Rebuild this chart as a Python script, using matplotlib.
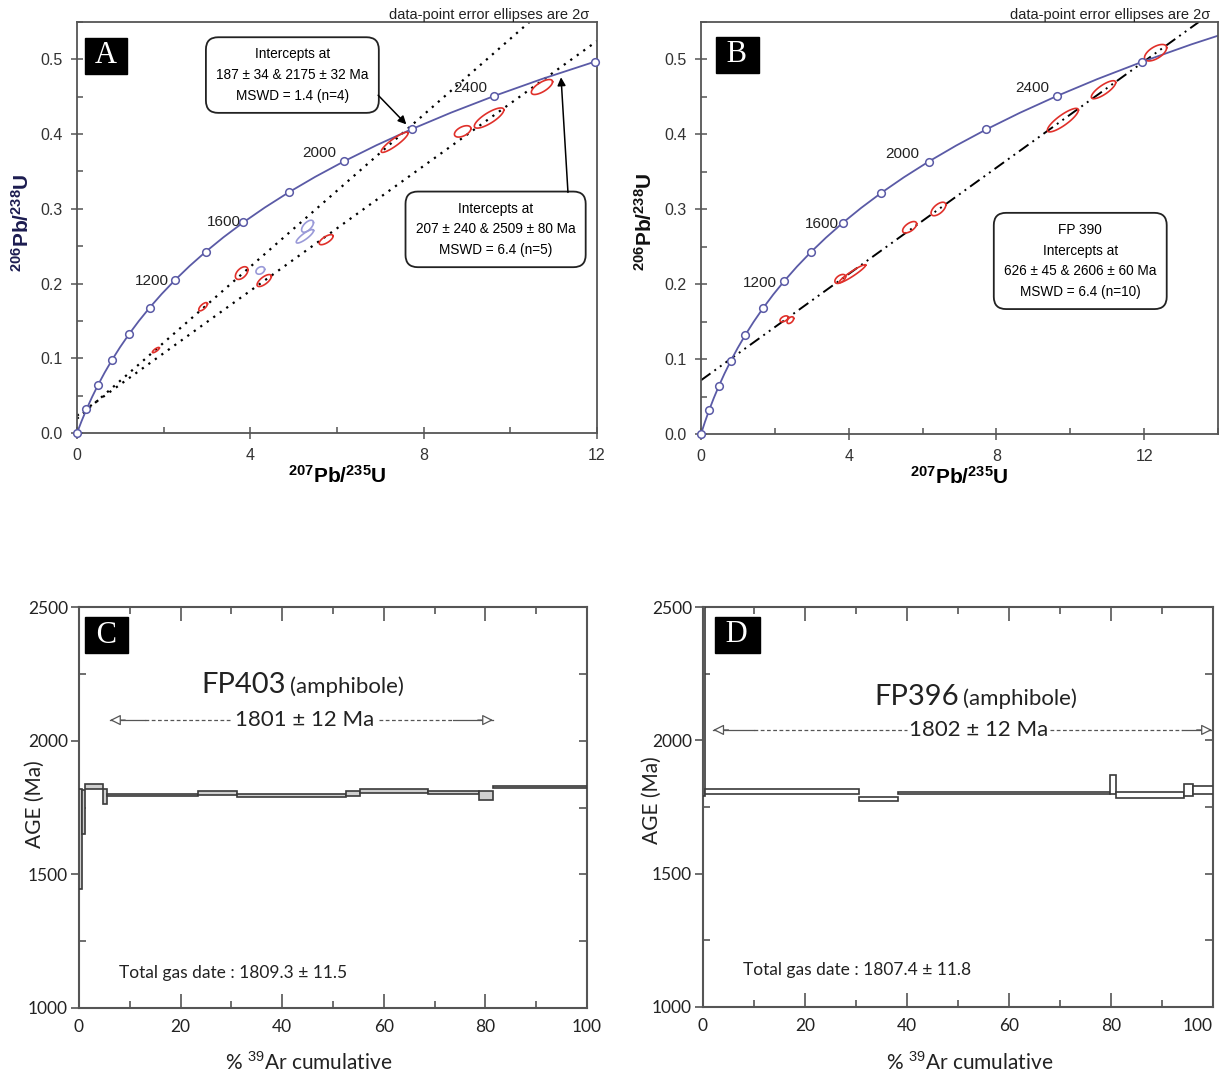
import numpy as np
import matplotlib
matplotlib.use('Agg')
import matplotlib.pyplot as plt
from matplotlib.ticker import MultipleLocator, FormatStrFormatter

plt.rcParams['font.family'] = ['Liberation Sans', 'DejaVu Sans']
plt.rcParams['mathtext.fontset'] = 'custom'
plt.rcParams['mathtext.rm'] = 'Liberation Sans'
plt.rcParams['mathtext.bf'] = 'Liberation Sans:bold'

# concordia (every 100 Ma), 207Pb/235U and 206Pb/238U
conc_age = np.arange(0, 2900, 100)
conc_x = [0, 0.1035, 0.2177, 0.3437, 0.4828, 0.6363, 0.8056, 0.9925, 1.1987, 1.4263,
          1.6774, 1.9545, 2.2603, 2.5977, 2.9702, 3.3810, 3.8344, 4.3348, 4.8869, 5.4962,
          6.1685, 6.9105, 7.7292, 8.6326, 9.6296, 10.7304, 11.9437, 13.2834, 14.7617]
conc_y = [0, 0.01563, 0.03151, 0.04764, 0.06402, 0.08065, 0.09754, 0.11470, 0.13214, 0.14982,
          0.16781, 0.18606, 0.20460, 0.22344, 0.24256, 0.26198, 0.28171, 0.30175, 0.32210, 0.34277,
          0.36376, 0.38509, 0.40673, 0.42873, 0.45106, 0.47376, 0.49678, 0.52020, 0.54395]
age_labels = ['1200', '1600', '2000', '2400']

# panel A ellipses (red = used, blue = rejected)
A_red_x = [1.82, 2.91, 3.80, 4.32, 5.75, 7.33, 8.90, 9.51, 10.73]
A_red_y = [0.111, 0.169, 0.214, 0.204, 0.2587, 0.389, 0.4036, 0.4215, 0.463]
A_red_sx = [0.08, 0.10, 0.145, 0.165, 0.16, 0.31, 0.19, 0.34, 0.245]
A_red_sy = [0.0035, 0.0055, 0.0085, 0.008, 0.0067, 0.0135, 0.0076, 0.0135, 0.010]
A_red_rho = [0.8, 0.7, 0.5, 0.7, 0.7, 0.9, 0.5, 0.8, 0.7]
A_blue_x = [4.23, 5.32, 5.26]
A_blue_y = [0.2175, 0.2767, 0.2632]
A_blue_sx = [0.10, 0.137, 0.20]
A_blue_sy = [0.005, 0.008, 0.009]
A_blue_rho = [0.3, 0.6, 0.85]
# discordia intercepts (lower, upper) for panel A
A_line1 = [(0.203, 0.0295), (7.53, 0.402)]
A_line2 = [(0.226, 0.0327), (10.834, 0.4758)]

# panel B ellipses
B_x = [2.25, 2.42, 3.77, 4.10, 5.65, 6.43, 9.80, 10.90, 12.31]
B_y = [0.1537, 0.152, 0.207, 0.214, 0.276, 0.3004, 0.419, 0.4596, 0.509]
B_sx = [0.11, 0.09, 0.145, 0.36, 0.19, 0.20, 0.42, 0.33, 0.30]
B_sy = [0.004, 0.0045, 0.006, 0.012, 0.0076, 0.009, 0.0157, 0.012, 0.011]
B_rho = [0.5, 0.5, 0.5, 0.95, 0.6, 0.6, 0.85, 0.8, 0.6]
B_line = [(0.8525, 0.10198), (12.0204, 0.49818)]

# Ar-Ar age spectra: step edges (% 39Ar cumulative) and age band (Ma)
C_start = [0, 0.6, 1.2, 4.8, 5.5, 23.5, 31.07, 52.5, 55.4, 68.7, 78.7, 81.4]
C_end = [0.6, 1.2, 4.8, 5.5, 23.5, 31.07, 52.5, 55.4, 68.7, 78.7, 81.4, 100]
C_lo = [1445, 1650, 1821, 1763, 1793, 1797, 1791, 1792, 1806, 1802, 1778, 1822]
C_hi = [1820, 1815, 1838, 1820, 1800, 1813, 1799, 1812, 1821, 1812, 1810, 1831]
D_start = [0, 0.3, 30.6, 38.3, 79.9, 80.9, 94.3, 96.1]
D_end = [0.3, 30.6, 38.3, 79.9, 80.9, 94.3, 96.1, 100]
D_lo = [1790, 1798, 1772, 1799, 1798, 1785, 1790, 1800]
D_hi = [2520, 1817, 1788, 1806, 1870, 1807, 1838, 1829]

fig = plt.figure(figsize=(12.25, 10.77), dpi=100)
axA = fig.add_axes([77/1225, 1-433/1077, 520/1225, 411/1077])
axB = fig.add_axes([701/1225, 1-434/1077, 517/1225, 412/1077])
axC = fig.add_axes([79/1225, 1-1008/1077, 508/1225, 401/1077])
axD = fig.add_axes([703/1225, 1-1007/1077, 510/1225, 400/1077])

conc_col = '#5a5aa6'
red = '#e0302a'
blue = '#9a9ad8'


def ellipse(ax, x, y, sx, sy, rho, color):
    t = np.linspace(0, 2*np.pi, 90)
    ax.plot(x + sx*np.cos(t), y + sy*(rho*np.cos(t) + np.sqrt(1-rho**2)*np.sin(t)),
            color=color, lw=1.2, zorder=3)


def panel_letter(ax, letter, fx, fy):
    ax.text(fx, fy, ' ' + letter + ' ', transform=ax.transAxes, ha='center', va='center',
            family=['Liberation Serif', 'DejaVu Serif'], fontsize=22, color='white',
            bbox=dict(boxstyle='square,pad=0.12', fc='black', ec='black'), zorder=10)


def concordia(ax, last):
    ax.plot(conc_x[:last], conc_y[:last], color=conc_col, lw=1.3, zorder=2)
    ax.plot(conc_x[:27:2], conc_y[:27:2], 'o', ms=5.5, mfc='white', mec=conc_col,
            mew=1.1, zorder=4, clip_on=False)


def style_concordia(ax, xmax):
    ax.set_xlim(0, xmax)
    ax.set_ylim(0, 0.55)
    ax.xaxis.set_major_locator(MultipleLocator(4))
    ax.xaxis.set_minor_locator(MultipleLocator(2))
    ax.yaxis.set_major_locator(MultipleLocator(0.1))
    ax.yaxis.set_minor_locator(MultipleLocator(0.05))
    ax.yaxis.set_major_formatter(FormatStrFormatter('%.1f'))
    ax.tick_params(which='major', direction='inout', length=9, width=1.1, color='#555',
                   labelsize=11.5, labelcolor='#333', pad=6)
    ax.tick_params(which='minor', direction='in', length=4, width=1.1, color='#555')
    for s in ax.spines.values():
        s.set_color('#555')
        s.set_linewidth(1.3)
    ax.set_xlabel(r'$\mathbf{^{207}Pb/^{235}U}$', fontsize=15, labelpad=2)
    ax.text(0.985, 0.999, 'data-point error ellipses are 2σ', transform=ax.transAxes,
            ha='right', va='bottom', fontsize=10.5, color='#222')


bbox_round = dict(boxstyle='round,pad=0.75,rounding_size=0.9', fc='white', ec='#222', lw=1.3)

# ---------------- panel A ----------------
style_concordia(axA, 12)
concordia(axA, 27)
for (p0, p1) in [A_line1, A_line2]:
    sl = (p1[1]-p0[1])/(p1[0]-p0[0])
    axA.axline(p0, slope=sl, color='black', lw=1.6, ls=(0, (1, 2.6)), zorder=1)
for i in range(len(A_red_x)):
    ellipse(axA, A_red_x[i], A_red_y[i], A_red_sx[i], A_red_sy[i], A_red_rho[i], red)
for i in range(len(A_blue_x)):
    ellipse(axA, A_blue_x[i], A_blue_y[i], A_blue_sx[i], A_blue_sy[i], A_blue_rho[i], blue)
for lab, (lx, ly) in zip(age_labels, [(1.72, 0.203), (3.38, 0.2825), (5.58, 0.375), (9.07, 0.462)]):
    axA.text(lx, ly, lab, ha='center', va='center', fontsize=11, color='#222')
axA.text(4.97, 0.479, 'Intercepts at\n187 ± 34 & 2175 ± 32 Ma\nMSWD = 1.4 (n=4)', ha='center',
         va='center', fontsize=9.8, linespacing=1.6, bbox=bbox_round, zorder=6)
axA.text(9.66, 0.2725, 'Intercepts at\n207 ± 240 & 2509 ± 80 Ma\nMSWD = 6.4 (n=5)', ha='center',
         va='center', fontsize=9.8, linespacing=1.6, bbox=bbox_round, zorder=6)
arr = dict(arrowstyle='-|>', color='black', lw=1.1, mutation_scale=12, shrinkA=0, shrinkB=0)
axA.annotate('', xy=(7.6, 0.413), xytext=(6.95, 0.452), arrowprops=arr, zorder=7)
axA.annotate('', xy=(11.17, 0.476), xytext=(11.33, 0.322), arrowprops=arr, zorder=7)
panel_letter(axA, 'A', 0.056, 0.918)
fig.text(22/1225, 1-223/1077, r'$\mathbf{^{206}Pb/^{238}U}$', rotation=90, ha='center',
         va='center', fontsize=15, color='#1c1c50')

# ---------------- panel B ----------------
style_concordia(axB, 14)
concordia(axB, 29)
slB = (B_line[1][1]-B_line[0][1])/(B_line[1][0]-B_line[0][0])
axB.axline(B_line[0], slope=slB, color='black', lw=1.4, ls=(0, (6, 2.5, 1, 2.5, 1, 2.5)), zorder=1)
for i in range(len(B_x)):
    ellipse(axB, B_x[i], B_y[i], B_sx[i], B_sy[i], B_rho[i], red)
for lab, (lx, ly) in zip(age_labels, [(1.59, 0.202), (3.28, 0.280), (5.44, 0.374), (8.96, 0.462)]):
    axB.text(lx, ly, lab, ha='center', va='center', fontsize=11, color='#222')
axB.text(10.27, 0.231, 'FP 390\nIntercepts at\n626 ± 45 & 2606 ± 60 Ma\nMSWD = 6.4 (n=10)',
         ha='center', va='center', fontsize=9.8, linespacing=1.6, bbox=bbox_round, zorder=6)
panel_letter(axB, 'B', 0.070, 0.920)
fig.text(645/1225, 1-222/1077, r'$\mathbf{^{206}Pb/^{238}U}$', rotation=90, ha='center',
         va='center', fontsize=15, color='#111')


# ---------------- panels C, D ----------------
sans2 = ['Lato', 'DejaVu Sans']


def spectrum(ax, start, end, lo, hi, fc, xlab_x, ylab_x, ylab_y):
    w = np.array(end) - np.array(start)
    h = np.array(hi) - np.array(lo)
    ax.bar(start, h, width=w, bottom=lo, align='edge', fc=fc, ec='#3a3a3a', lw=1.2, zorder=3)
    ax.set_xlim(0, 100)
    ax.set_ylim(1000, 2500)
    ax.set_xticks([0, 20, 40, 60, 80, 100])
    ax.xaxis.set_minor_locator(MultipleLocator(10))
    ax.yaxis.set_major_locator(MultipleLocator(500))
    ax.yaxis.set_minor_locator(MultipleLocator(250))
    ax.tick_params(axis='x', which='major', direction='in', length=10, width=1.2, top=True,
                   color='#555', labelsize=12.5, labelcolor='#222', pad=8)
    ax.tick_params(axis='x', which='minor', direction='in', length=5, width=1.2, top=True, color='#555')
    ax.tick_params(axis='y', which='major', direction='out', length=6, width=1.2, color='#555',
                   labelsize=12.5, labelcolor='#222', pad=2)
    ax.tick_params(axis='y', which='minor', direction='in', length=5, width=1.2, color='#555')
    for lab in ax.get_xticklabels() + ax.get_yticklabels():
        lab.set_family(sans2)
    sec = ax.secondary_yaxis('right')
    sec.yaxis.set_major_locator(MultipleLocator(500))
    sec.yaxis.set_minor_locator(MultipleLocator(250))
    sec.tick_params(which='both', direction='in', length=6, width=1.2, color='#555', labelright=False)
    sec.spines['right'].set_visible(False)
    for s in ax.spines.values():
        s.set_color('#555')
        s.set_linewidth(1.5)
    fig.text(xlab_x/1225, 1-1062/1077, r'% $^{39}$Ar cumulative', fontsize=15, family=sans2,
             color='#222', ha='center', va='center')
    fig.text(ylab_x/1225, 1-ylab_y/1077, 'AGE (Ma)', fontsize=15, family=sans2, color='#222',
             rotation=90, ha='center', va='center')


def plateau(ax, y, x0, s1, d1, d2, s2, x1, xt, label):
    ax.plot([s1, d1], [y, y], color='#555', lw=0.9, ls=(0, (3, 2)))
    ax.plot([d2, s2], [y, y], color='#555', lw=0.9, ls=(0, (3, 2)))
    ax.plot([x0, s1], [y, y], color='#555', lw=0.9)
    ax.plot([s2, x1], [y, y], color='#555', lw=0.9)
    aw = dict(arrowstyle='-|>', fc='white', ec='#555', lw=0.9, mutation_scale=16, shrinkA=0, shrinkB=0)
    ax.annotate('', xy=(x0, y), xytext=(x0+3, y), arrowprops=aw)
    ax.annotate('', xy=(x1, y), xytext=(x1-3, y), arrowprops=aw)
    ax.text(xt, y, label, ha='center', va='center', fontsize=16, family=sans2, color='#222')


spectrum(axC, C_start, C_end, C_lo, C_hi, '#cfcfcf', 309, 35, 804)
axC.text(40.7, 2180, 'FP403', ha='right', va='baseline', fontsize=21, family=sans2, color='#222')
axC.text(41.5, 2180, '(amphibole)', ha='left', va='baseline', fontsize=16, family=sans2, color='#222')
plateau(axC, 2077, 6.1, 13, 30, 59, 73.6, 81.5, 44.5, '1801 ± 12 Ma')
axC.text(7.9, 1131, 'Total gas date : 1809.3 ± 11.5', ha='left', va='center', fontsize=12.5,
         family=sans2, color='#222')
panel_letter(axC, 'C', 0.055, 0.93)

spectrum(axD, D_start, D_end, D_lo, D_hi, 'white', 970, 652, 800)
axD.get_xticklabels()[-1].set_ha('right')
axD.text(50.2, 2133, 'FP396', ha='right', va='baseline', fontsize=21, family=sans2, color='#222')
axD.text(51.0, 2133, '(amphibole)', ha='left', va='baseline', fontsize=16, family=sans2, color='#222')
plateau(axD, 2039, 2.0, 10, 40, 68, 94, 99.8, 54, '1802 ± 12 Ma')
axD.text(7.8, 1138, 'Total gas date : 1807.4 ± 11.8', ha='left', va='center', fontsize=12.5,
         family=sans2, color='#222')
panel_letter(axD, 'D', 0.067, 0.93)

plt.savefig('out.png', dpi=100)
